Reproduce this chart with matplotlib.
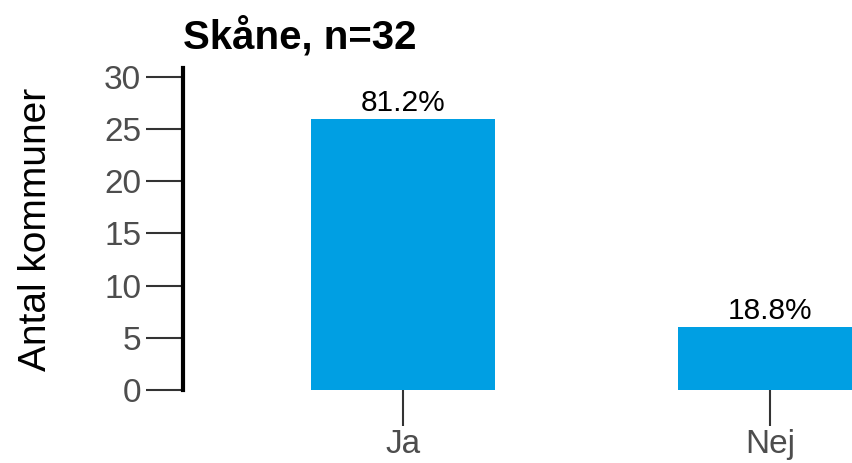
import matplotlib.pyplot as plt

categories = ["Ja", "Nej"]
counts = [26, 6]
pct_labels = ["81.2%", "18.8%"]
title = "Skåne, n=32"
ylabel = "Antal kommuner"
yticks = [0, 5, 10, 15, 20, 25, 30]

plt.rcParams['font.family'] = ['Liberation Sans', 'DejaVu Sans']

fig = plt.figure(figsize=(8.53, 4.63), dpi=100)
ax = fig.add_axes([0.2145, 0.1577, 0.7855, 0.6955])

x = list(range(len(categories)))
bars = ax.bar(x, counts, width=0.5, color="#009FE3")
for b, lab in zip(bars, pct_labels):
    ax.text(b.get_x() + b.get_width() / 2, b.get_height() + 0.2, lab,
            ha="center", va="bottom", fontsize=21.5, color="black")

ax.set_xlim(-0.6, 1.226)
ax.set_ylim(0, 30.86)
ax.set_yticks(yticks)
ax.set_xticks(x)
ax.set_xticklabels(categories)

for s in ["top", "right", "bottom"]:
    ax.spines[s].set_visible(False)
ax.spines["left"].set_linewidth(3)
ax.spines["left"].set_color("black")

ax.tick_params(axis="y", length=27, width=1.5, color="#333333",
               labelcolor="#4d4d4d", labelsize=24, pad=3)
ax.tick_params(axis="x", length=26, width=1.5, color="#333333",
               labelcolor="#4d4d4d", labelsize=24, pad=2)

ax.set_ylabel(ylabel, fontsize=28, color="black", labelpad=36)
ax.set_title(title, loc="left", fontsize=29, fontweight="bold", pad=14)

fig.savefig("out.png", dpi=100)
